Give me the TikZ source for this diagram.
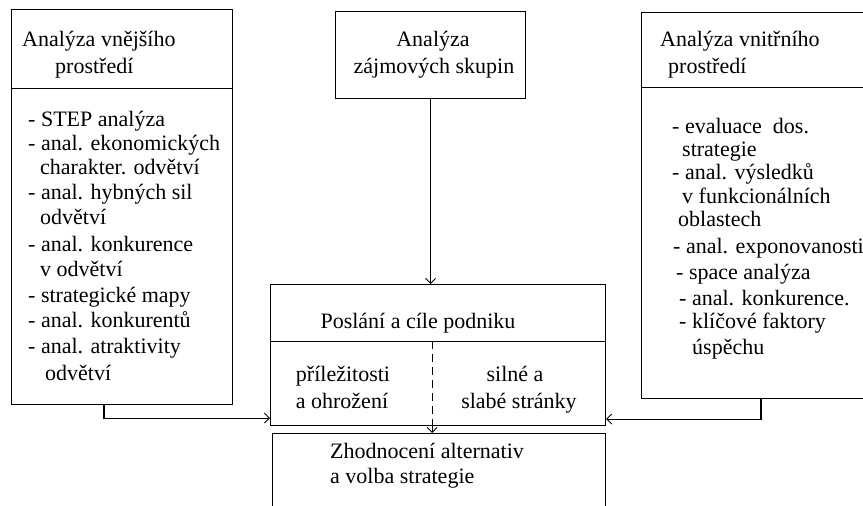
\documentclass[tikz,border=0pt]{standalone}
\usepackage{fontspec}
\setmainfont{Liberation Serif}
\usetikzlibrary{arrows.meta,calc}
\begin{document}
\begin{tikzpicture}[x=1pt,y=-1pt,
  box/.style={draw, line width=1.1pt, rectangle, anchor=north west, inner sep=0pt},
  txt/.style={anchor=base west, inner sep=0pt, font=\fontsize{22}{25}\selectfont},
  arr/.style={line width=1.1pt, -{Straight Barb[length=5pt,width=10pt,line width=0.9pt]}}]
\clip (0,0) rectangle (863,506);
\fill[white] (0,0) rectangle (863,506);

% external environment
\node[box, minimum width=221, minimum height=79] (extHead) at (11,9) {};
\node[box, minimum width=221, minimum height=316] (extBody) at (11,88) {};
\node[txt] (e0) at (22,46) {Analýza vnějšího};
\node[txt] (e1) at (55,73) {prostředí};
\node[txt] (e2) at (28,126) {- STEP analýza};
\node[txt] (e3) at (28,150) {- anal. ekonomických};
\node[txt] (e4) at (40,174) {charakter. odvětví};
\node[txt] (e5) at (28,199) {- anal. hybných sil};
\node[txt] (e6) at (40,224) {odvětví};
\node[txt] (e7) at (28,251) {- anal. konkurence};
\node[txt] (e8) at (40,276) {v odvětví};
\node[txt] (e9) at (28,302) {- strategické mapy};
\node[txt] (e10) at (28,327) {- anal. konkurentů};
\node[txt] (e11) at (28,353) {- anal. atraktivity};
\node[txt] (e12) at (45,380) {odvětví};

% stakeholders
\node[box, minimum width=190, minimum height=87] (stake) at (335,11) {};
\node[txt, anchor=base] (s0) at (433,46) {Analýza};
\node[txt, anchor=base] (s1) at (434,73) {zájmových skupin};

% internal environment
\node[box, minimum width=250, minimum height=75] (intHead) at (641,12) {};
\node[box, minimum width=250, minimum height=311] (intBody) at (641,87) {};
\node[txt] (i0) at (660,46) {Analýza vnitřního};
\node[txt] (i1) at (668,73) {prostředí};
\node[txt] (i2) at (672,133) {- evaluace\ \ dos.};
\node[txt] (i3) at (682,156) {strategie};
\node[txt] (i4) at (672,179) {- anal. výsledků};
\node[txt] (i5) at (682,203) {v funkcionálních};
\node[txt] (i6) at (678,226) {oblastech};
\node[txt] (i7) at (673,253) {- anal. exponovanosti};
\node[txt] (i8) at (676,279) {- space analýza};
\node[txt] (i9) at (679,305) {- anal. konkurence.};
\node[txt] (i10) at (679,328) {- klíčové faktory};
\node[txt] (i11) at (692,354) {úspěchu};

% mission and goals
\node[box, minimum width=335, minimum height=57] (missionHead) at (270,284) {};
\node[box, minimum width=335, minimum height=84] (missionBody) at (270,341) {};
\node[txt, anchor=base] (m0) at (418,328) {Poslání a cíle podniku};
\node[txt, anchor=base] (m1) at (343,381) {příležitosti};
\node[txt, anchor=base] (m2) at (342,408) {a ohrožení};
\node[txt, anchor=base] (m3) at (515,381) {silné a};
\node[txt, anchor=base] (m4) at (519,408) {slabé stránky};

% evaluation and choice
\node[box, minimum width=333, minimum height=100] (choice) at (272,433) {};
\node[txt] (c0) at (330,458) {Zhodnocení alternativ};
\node[txt] (c1) at (330,483) {a volba strategie};

% connectors
\draw[arr] (stake.south) -- (missionHead.north -| stake.south);
\draw[line width=1.1pt, dash pattern=on 8pt off 5pt]
  ([xshift=-6pt]missionBody.north) -- ([xshift=-6pt]missionBody.south);
\draw[arr] ([xshift=-6pt]missionBody.south) -- ([xshift=-6pt]choice.north -| missionBody.south);
\draw[arr] ([xshift=93pt]extBody.south west) |- ([yshift=8pt]missionBody.south west);
\draw[arr] ([xshift=120pt]intBody.south west) |- ([yshift=7pt]missionBody.south east);
\end{tikzpicture}
\end{document}
